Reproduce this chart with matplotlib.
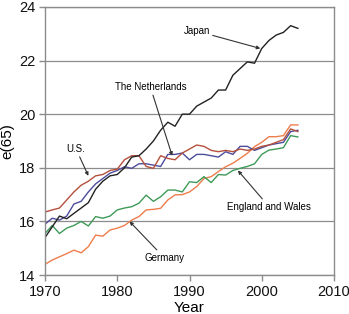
import matplotlib
matplotlib.use("Agg")
import matplotlib.pyplot as plt
import numpy as np

plt.rcParams['font.family'] = ['Liberation Sans', 'DejaVu Sans']

years = list(range(1970, 2006))

japan = [15.4, 15.8, 16.2, 16.1, 16.3, 16.5, 16.7, 17.2, 17.5, 17.7,
         17.75, 18.0, 18.4, 18.45, 18.7, 19.0, 19.4, 19.7, 19.55, 20.0,
         20.0, 20.3, 20.45, 20.6, 20.9, 20.9, 21.45, 21.7, 21.95, 21.9,
         22.45, 22.75, 22.95, 23.05, 23.3, 23.2]
netherlands = [16.35, 16.43, 16.5, 16.8, 17.1, 17.35, 17.5, 17.7, 17.75, 17.9,
               17.95, 18.3, 18.45, 18.45, 18.05, 17.98, 18.45, 18.35, 18.3, 18.55,
               18.7, 18.85, 18.8, 18.65, 18.6, 18.65, 18.6, 18.7, 18.65, 18.7,
               18.8, 18.85, 18.95, 19.05, 19.45, 19.35]
us = [15.9, 16.12, 16.05, 16.2, 16.65, 16.75, 17.1, 17.4, 17.6, 17.8,
      17.9, 18.04, 17.98, 18.15, 18.15, 18.1, 18.05, 18.5, 18.5, 18.55,
      18.3, 18.5, 18.5, 18.45, 18.4, 18.6, 18.5, 18.8, 18.8, 18.65,
      18.75, 18.85, 18.9, 18.95, 19.35, 19.4]
england_wales = [15.55, 15.85, 15.55, 15.75, 15.85, 16.0, 15.83, 16.18, 16.12, 16.2,
                 16.43, 16.5, 16.55, 16.68, 16.98, 16.75, 16.92, 17.17, 17.17, 17.1,
                 17.48, 17.45, 17.67, 17.45, 17.75, 17.73, 17.9, 17.98, 18.05, 18.15,
                 18.5, 18.66, 18.7, 18.75, 19.2, 19.15]
germany = [14.4, 14.56, 14.68, 14.8, 14.93, 14.83, 15.06, 15.49, 15.45, 15.68,
           15.75, 15.85, 16.05, 16.18, 16.43, 16.45, 16.49, 16.8, 16.99, 17.0,
           17.1, 17.3, 17.6, 17.67, 17.86, 18.04, 18.17, 18.35, 18.54, 18.79,
           18.95, 19.16, 19.16, 19.2, 19.6, 19.6]

xticks = [1970, 1980, 1990, 2000, 2010]
yticks = [14, 16, 18, 20, 22, 24]

fig = plt.figure(figsize=(3.49, 3.14), dpi=100)
ax = fig.add_axes([0.129, 0.124, 0.828, 0.854])

grey = '#8c8c8c'
ax.plot(years, germany, color='#ee7d4c', lw=1.0)
ax.plot(years, england_wales, color='#3e9a58', lw=1.0)
ax.plot(years, us, color='#4c4c9c', lw=1.0)
ax.plot(years, netherlands, color='#b4503c', lw=1.0)
ax.plot(years, japan, color='#222222', lw=1.0)

ax.set_xlim(1970, 2010)
ax.set_ylim(14, 24)
ax.set_xticks(xticks)
ax.set_yticks(yticks)
ax.yaxis.grid(True, color=grey, lw=0.9)
ax.set_axisbelow(True)
for s in ax.spines.values():
    s.set_color(grey)
    s.set_linewidth(1.0)
ax.tick_params(axis='both', colors=grey, labelcolor='#111111', labelsize=10.5,
               length=4, width=1.0, direction='out')
ax.tick_params(axis='y', pad=3)
ax.set_xlabel('Year', fontsize=11, labelpad=1)
ax.set_ylabel('e(65)', fontsize=11, labelpad=3)

arrow = dict(arrowstyle='-|>', color='#333333', lw=0.8, mutation_scale=5,
             shrinkA=0, shrinkB=0)
ax.annotate('Japan', xy=(1999.8, 22.45), xytext=(1991.0, 23.1),
            fontsize=7, ha='center', va='center', arrowprops=arrow)
ax.annotate('The Netherlands', xy=(1987.6, 18.45), xytext=(1984.6, 21.0),
            fontsize=7, ha='center', va='center', arrowprops=arrow)
ax.annotate('U.S.', xy=(1976.0, 17.7), xytext=(1974.3, 18.7),
            fontsize=7, ha='center', va='center', arrowprops=arrow)
ax.annotate('England and Wales', xy=(1996.7, 17.9), xytext=(2001.0, 16.55),
            fontsize=7, ha='center', va='center', arrowprops=arrow)
ax.annotate('Germany', xy=(1981.7, 16.0), xytext=(1986.5, 14.65),
            fontsize=7, ha='center', va='center', arrowprops=arrow)

fig.savefig('out.png', dpi=100)
